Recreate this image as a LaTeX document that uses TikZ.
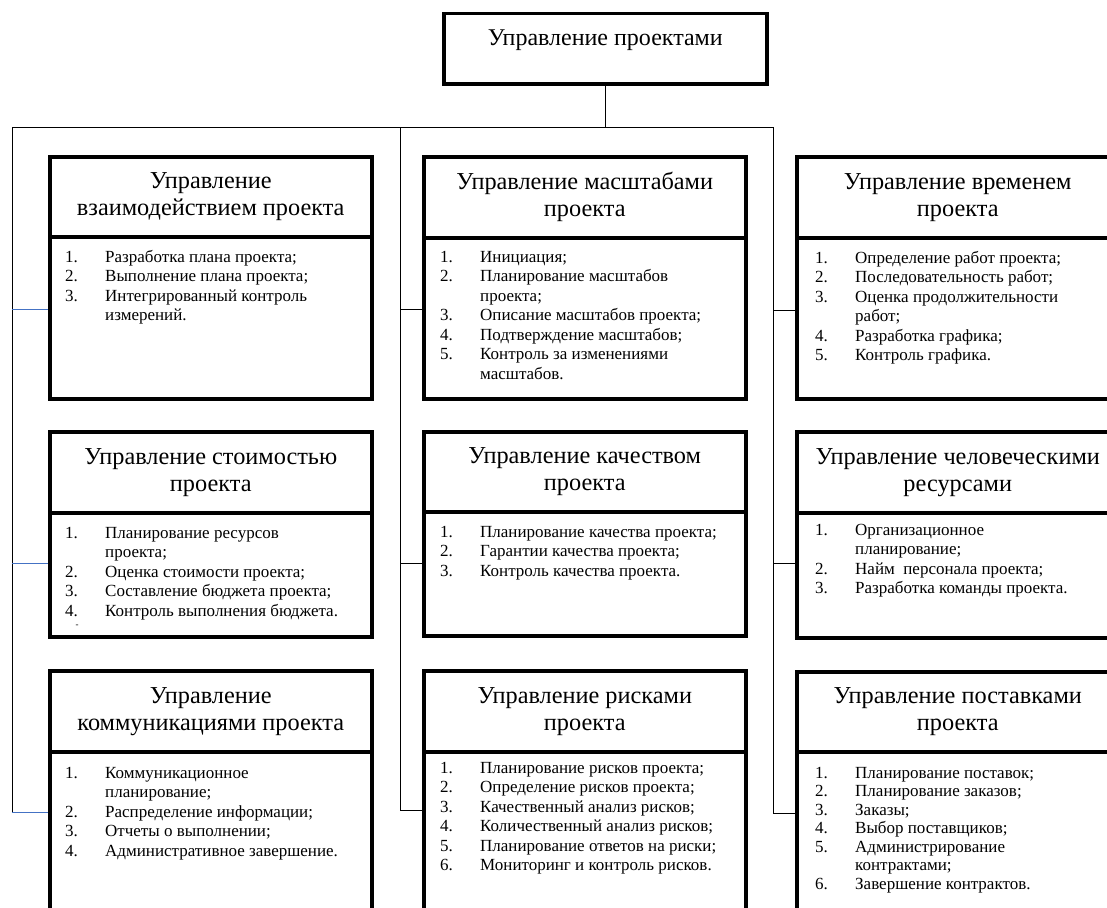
\documentclass[tikz,border=0pt]{standalone}
\usepackage{fontspec}
\setmainfont{Liberation Serif}
\usetikzlibrary{calc}
\definecolor{linkblue}{RGB}{68,114,196}
\newcommand\itm[2]{\makebox[40pt][l]{#1}#2}
\tikzset{
  box/.style={draw, line width=3.5pt, rectangle, inner sep=0pt},
  hdr/.style={box, align=center, font=\fontsize{24.3}{27}\selectfont},
  bodytext/.style={inner sep=0pt, align=left, anchor=north west, font=\fontsize{17}{19.5}\selectfont},
  bodyextra/.style={},
  wire/.style={line width=0.9pt, black},
  bluewire/.style={line width=0.9pt, linkblue},
}
\newcommand\mkpanel[9]{%
  \node[hdr, minimum width=322pt, minimum height={(#4)-(#3)}, anchor=north west] (#1h) at (#2,#3) {#8};
  \node[box, minimum width=322pt, minimum height={(#5)-(#4)}, anchor=north west] (#1b) at (#2,#4) {};
  \node[bodytext, bodyextra] (#1t) at ({#2+#7},{#6-12.5}) {\rule{0pt}{12.5pt}#9};
}
\begin{document}
\begin{tikzpicture}[x={(1pt,0)}, y={(0,-1pt)}]
\useasboundingbox (0,0) rectangle (1107,907);
\clip (0,0) rectangle (1107,907);

% root
\node[box, minimum width=323pt, minimum height=70pt, anchor=north west,
      font=\fontsize{24}{27}\selectfont, text height=16pt, text depth=22pt] (root) at (442,12) {Управление проектами};

% panels
\mkpanel{p1}{48}{155}{235}{397}{262}{17}{Управление\\взаимодействием проекта}{%
\itm{1.}{Разработка плана проекта;}\\
\itm{2.}{Выполнение плана проекта;}\\
\itm{3.}{Интегрированный контроль}\\
\itm{}{измерений.}}

\mkpanel{p2}{422}{155}{236}{397}{262}{18}{Управление масштабами\\проекта}{%
\itm{1.}{Инициация;}\\
\itm{2.}{Планирование масштабов}\\
\itm{}{проекта;}\\
\itm{3.}{Описание масштабов проекта;}\\
\itm{4.}{Подтверждение масштабов;}\\
\itm{5.}{Контроль за изменениями}\\
\itm{}{масштабов.}}

\mkpanel{p3}{795}{155}{236}{397}{263}{20}{Управление временем\\проекта}{%
\itm{1.}{Определение работ проекта;}\\
\itm{2.}{Последовательность работ;}\\
\itm{3.}{Оценка продолжительности}\\
\itm{}{работ;}\\
\itm{4.}{Разработка графика;}\\
\itm{5.}{Контроль графика.}}

\mkpanel{p4}{48}{430}{511}{635}{538}{17}{Управление стоимостью\\проекта}{%
\itm{1.}{Планирование ресурсов}\\
\itm{}{проекта;}\\
\itm{2.}{Оценка стоимости проекта;}\\
\itm{3.}{Составление бюджета проекта;}\\
\itm{4.}{Контроль выполнения бюджета.}}
\node[inner sep=0pt, font=\fontsize{9}{9}\selectfont] (p4mark) at (77,626) {-};

\mkpanel{p5}{422}{430}{510}{634}{537}{18}{Управление качеством\\проекта}{%
\itm{1.}{Планирование качества проекта;}\\
\itm{2.}{Гарантии качества проекта;}\\
\itm{3.}{Контроль качества проекта.}}

\mkpanel{p6}{795}{430}{511}{636}{535}{20}{Управление человеческими\\ресурсами}{%
\itm{1.}{Организационное}\\
\itm{}{планирование;}\\
\itm{2.}{Найм~~персонала проекта;}\\
\itm{3.}{Разработка команды проекта.}}

\mkpanel{p7}{48}{669}{750}{930}{778}{17}{Управление\\коммуникациями проекта}{%
\itm{1.}{Коммуникационное}\\
\itm{}{планирование;}\\
\itm{2.}{Распределение информации;}\\
\itm{3.}{Отчеты о выполнении;}\\
\itm{4.}{Административное завершение.}}

\mkpanel{p8}{422}{669}{750}{930}{773}{18}{Управление рисками\\проекта}{%
\itm{1.}{Планирование рисков проекта;}\\
\itm{2.}{Определение рисков проекта;}\\
\itm{3.}{Качественный анализ рисков;}\\
\itm{4.}{Количественный анализ рисков;}\\
\itm{5.}{Планирование ответов на риски;}\\
\itm{6.}{Мониторинг и контроль рисков.}}

\tikzset{bodyextra/.style={font=\fontsize{17}{18.5}\selectfont}}
\mkpanel{p9}{795}{670}{750}{930}{778}{20}{Управление поставками\\проекта}{%
\itm{1.}{Планирование поставок;}\\
\itm{2.}{Планирование заказов;}\\
\itm{3.}{Заказы;}\\
\itm{4.}{Выбор поставщиков;}\\
\itm{5.}{Администрирование}\\
\itm{}{контрактами;}\\
\itm{6.}{Завершение контрактов.}}

% connectors
\coordinate (busL) at (12,127);
\coordinate (busM) at (400,127);
\coordinate (busR) at (773,127);
\coordinate (L1) at (12,309);
\coordinate (L2) at (12,563);
\coordinate (L3) at (12,812);
\coordinate (M1) at (400,309);
\coordinate (M2) at (400,563);
\coordinate (M3) at (400,810);
\coordinate (R1) at (773,310);
\coordinate (R2) at (773,563);
\coordinate (R3) at (773,813);

\draw[wire] (root.south) -- (root.south |- busL);
\draw[wire] (busL) -- (busR);
\draw[wire] (busL) -- (L3);
\draw[wire] (busM) -- (M3);
\draw[wire] (busR) -- (R3);
\draw[bluewire] (L1) -- (L1 -| p1b.west);
\draw[bluewire] (L2) -- (L2 -| p4b.west);
\draw[bluewire] (L3) -- (L3 -| p7b.west);
\draw[wire] (M1) -- (M1 -| p2b.west);
\draw[wire] (M2) -- (M2 -| p5b.west);
\draw[wire] (M3) -- (M3 -| p8b.west);
\draw[wire] (R1) -- (R1 -| p3b.west);
\draw[wire] (R2) -- (R2 -| p6b.west);
\draw[wire] (R3) -- (R3 -| p9b.west);
\end{tikzpicture}
\end{document}
